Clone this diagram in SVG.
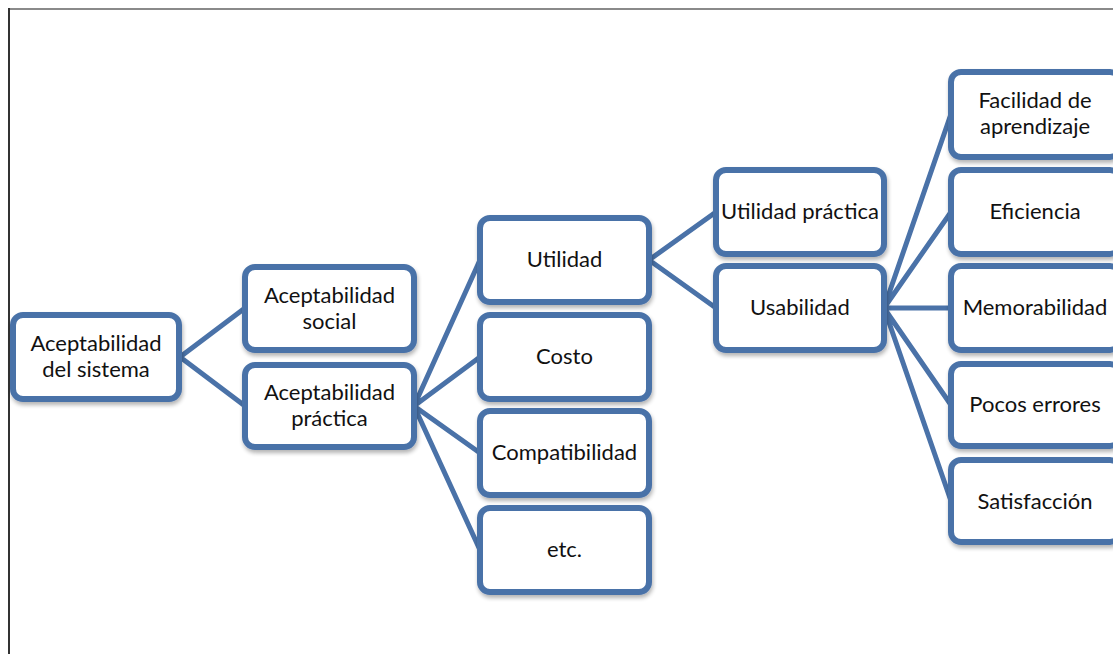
<svg xmlns="http://www.w3.org/2000/svg" width="1113" height="654" viewBox="0 0 1113 654">
<defs>
<filter id="sh" x="-10%" y="-10%" width="130%" height="130%">
<feGaussianBlur in="SourceAlpha" stdDeviation="2"/>
<feOffset dx="1" dy="3" result="b"/>
<feComponentTransfer><feFuncA type="linear" slope="0.3"/></feComponentTransfer>
<feMerge><feMergeNode/><feMergeNode in="SourceGraphic"/></feMerge>
</filter>
</defs>
<style>
.box{fill:#fff;stroke:#4a72a8;stroke-width:6;filter:url(#sh)}
.ln{stroke:#4a72a8;stroke-width:5;fill:none}
text{font-family:Lato,"Open Sans","Liberation Sans",sans-serif;font-size:22px;fill:#111;text-anchor:middle}
</style>
<rect width="1113" height="654" fill="#fff"/>
<line x1="8" y1="9" x2="1113" y2="9" stroke="#8a8a8a" stroke-width="2"/>
<line x1="9" y1="8" x2="9" y2="654" stroke="#333" stroke-width="2"/>
<g id="connectors">
<path class="ln" d="M180 357 L245 308 M180 357 L245 406"/>
<path class="ln" d="M414 406 L480 260 M414 406 L480 357 M414 406 L480 453 M414 406 L480 550"/>
<path class="ln" d="M649 260 L716 212 M649 260 L716 308"/>
<path class="ln" d="M884 308 L951 114 M884 308 L951 212 M884 308 L951 308 M884 308 L951 405 M884 308 L951 501"/>
</g>
<g id="n1"><rect class="box" x="13" y="315" width="166" height="84" rx="10"/><text x="96" y="351">Aceptabilidad</text><text x="96" y="377">del sistema</text></g>
<g id="n2"><rect class="box" x="245" y="267" width="169" height="83" rx="10"/><text x="329.5" y="303">Aceptabilidad</text><text x="329.5" y="329">social</text></g>
<g id="n3"><rect class="box" x="245" y="365" width="169" height="82" rx="10"/><text x="329.5" y="400">Aceptabilidad</text><text x="329.5" y="426">práctica</text></g>
<g id="n4"><rect class="box" x="480" y="218" width="169" height="84" rx="10"/><text x="564.5" y="267">Utilidad</text></g>
<g id="n5"><rect class="box" x="480" y="315" width="169" height="84" rx="10"/><text x="564.5" y="364">Costo</text></g>
<g id="n6"><rect class="box" x="480" y="411" width="169" height="84" rx="10"/><text x="564.5" y="460">Compatibilidad</text></g>
<g id="n7"><rect class="box" x="480" y="508" width="169" height="84" rx="10"/><text x="564.5" y="557">etc.</text></g>
<g id="n8"><rect class="box" x="716" y="170" width="168" height="84" rx="10"/><text x="800" y="219">Utilidad práctica</text></g>
<g id="n9"><rect class="box" x="716" y="266" width="168" height="84" rx="10"/><text x="800" y="315">Usabilidad</text></g>
<g id="n10"><rect class="box" x="951" y="72" width="169" height="85" rx="10"/><text x="1035" y="108">Facilidad de</text><text x="1035" y="134">aprendizaje</text></g>
<g id="n11"><rect class="box" x="951" y="170" width="169" height="84" rx="10"/><text x="1035" y="219">Eficiencia</text></g>
<g id="n12"><rect class="box" x="951" y="266" width="169" height="84" rx="10"/><text x="1035" y="315">Memorabilidad</text></g>
<g id="n13"><rect class="box" x="951" y="364" width="169" height="82" rx="10"/><text x="1035" y="412">Pocos errores</text></g>
<g id="n14"><rect class="box" x="951" y="460" width="169" height="82" rx="10"/><text x="1035" y="509">Satisfacción</text></g>
</svg>
